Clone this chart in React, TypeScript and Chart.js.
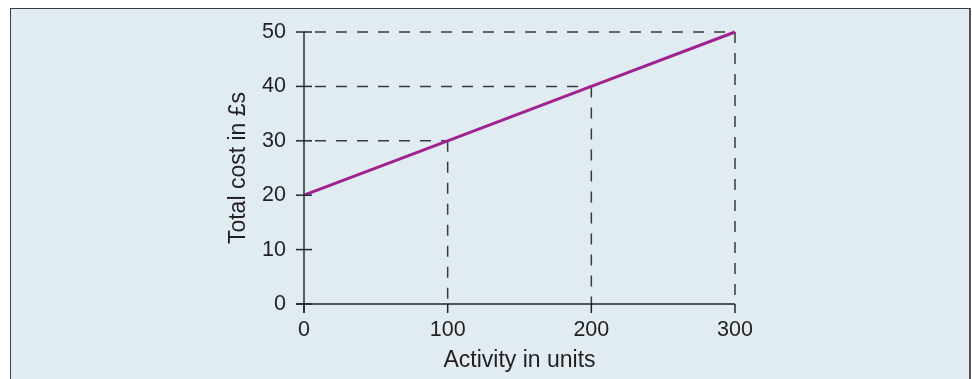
import React, { useEffect, useRef } from "react";
import { Chart, registerables } from "chart.js";

Chart.register(...registerables);

const activityUnits = [0, 100, 200, 300];
const totalCost = [20, 30, 40, 50];
const xTickValues = [0, 100, 200, 300];
const yTickValues = [0, 10, 20, 30, 40, 50];
const xTitle = "Activity in units";
const yTitle = "Total cost in £s";

const FONT = "'Liberation Sans', Arial, Helvetica, sans-serif";
const TEXT = "#231f20";

const axesPlugin = {
  id: "axesAndGuides",
  beforeDatasetsDraw(chart: any) {
    const { ctx, scales } = chart;
    const xs = scales.x;
    const ys = scales.y;
    const x0 = xs.getPixelForValue(0);
    const y0 = ys.getPixelForValue(0);
    ctx.save();
    ctx.strokeStyle = "#3a3a3a";
    ctx.lineWidth = 1.5;
    ctx.setLineDash([11, 10]);
    for (let i = 0; i < activityUnits.length; i++) {
      if (activityUnits[i] === 0) continue;
      const px = xs.getPixelForValue(activityUnits[i]);
      const py = ys.getPixelForValue(totalCost[i]);
      ctx.lineDashOffset = -11;
      ctx.beginPath();
      ctx.moveTo(x0, py);
      ctx.lineTo(px, py);
      ctx.stroke();
      ctx.lineDashOffset = 0;
      ctx.beginPath();
      ctx.moveTo(px, py);
      ctx.lineTo(px, y0);
      ctx.stroke();
    }
    ctx.restore();
  },
  afterDatasetsDraw(chart: any) {
    const { ctx, scales } = chart;
    const xs = scales.x;
    const ys = scales.y;
    const x0 = xs.getPixelForValue(0);
    const xMax = xs.getPixelForValue(xTickValues[xTickValues.length - 1]);
    const y0 = ys.getPixelForValue(0);
    const yMax = ys.getPixelForValue(yTickValues[yTickValues.length - 1]);
    ctx.save();
    ctx.setLineDash([]);
    ctx.strokeStyle = "#5c5c5e";
    ctx.lineWidth = 2;
    ctx.beginPath();
    ctx.moveTo(x0, yMax);
    ctx.lineTo(x0, y0 + 9);
    ctx.stroke();
    ctx.lineWidth = 1.5;
    ctx.strokeStyle = "#2a2a2a";
    for (const v of yTickValues) {
      const py = ys.getPixelForValue(v);
      ctx.beginPath();
      ctx.moveTo(x0 - 8, py);
      ctx.lineTo(x0 + 8, py);
      ctx.stroke();
    }
    ctx.strokeStyle = "#222";
    ctx.lineWidth = 1.5;
    ctx.beginPath();
    ctx.moveTo(x0 - 8, y0);
    ctx.lineTo(xMax, y0);
    ctx.stroke();
    for (const v of xTickValues) {
      const px = xs.getPixelForValue(v);
      ctx.beginPath();
      ctx.moveTo(px, y0);
      ctx.lineTo(px, y0 + 9);
      ctx.stroke();
    }
    ctx.restore();
  },
};

export default function App() {
  const canvasRef = useRef<HTMLCanvasElement | null>(null);

  useEffect(() => {
    const canvas = canvasRef.current;
    if (!canvas) return;
    const chart = new Chart(canvas, {
      type: "scatter",
      data: {
        datasets: [
          {
            data: activityUnits.map((x, i) => ({ x, y: totalCost[i] })),
            showLine: true,
            borderColor: "#a0228f",
            backgroundColor: "#a0228f",
            borderWidth: 3,
            pointRadius: 0,
            pointHoverRadius: 0,
            clip: false as any,
          },
        ],
      },
      options: {
        responsive: false,
        animation: false,
        events: [],
        layout: { padding: { left: 220, right: 237, top: 32, bottom: 0 } },
        plugins: {
          legend: { display: false },
          tooltip: { enabled: false },
          title: { display: false },
        },
        scales: {
          x: {
            type: "linear",
            min: 0,
            max: 300,
            afterBuildTicks: (scale: any) => {
              scale.ticks = xTickValues.map((v) => ({ value: v }));
            },
            afterFit: (scale: any) => {
              scale.height = 75;
            },
            grid: { display: false, drawTicks: false },
            border: { display: false },
            ticks: {
              font: { family: FONT, size: 21.5 },
              color: TEXT,
              padding: 13,
              maxRotation: 0,
            },
            title: {
              display: true,
              text: xTitle,
              font: { family: FONT, size: 23 },
              color: TEXT,
              padding: { top: 0, bottom: 5 },
            },
          },
          y: {
            type: "linear",
            min: 0,
            max: 50,
            afterBuildTicks: (scale: any) => {
              scale.ticks = yTickValues.map((v) => ({ value: v }));
            },
            afterFit: (scale: any) => {
              scale.width = 84;
            },
            grid: { display: false, drawTicks: false },
            border: { display: false },
            ticks: {
              font: { family: FONT, size: 21.5 },
              color: TEXT,
              padding: 18,
            },
            title: {
              display: true,
              text: yTitle,
              font: { family: FONT, size: 23 },
              color: TEXT,
              padding: { top: 5, bottom: 0 },
            },
          },
        },
      },
      plugins: [axesPlugin],
    });
    return () => chart.destroy();
  }, []);

  return (
    <div
      style={{
        position: "fixed",
        left: 0,
        top: 0,
        width: 972,
        height: 379,
        overflow: "hidden",
        background: "#ffffff",
      }}
    >
      <div
        style={{
          position: "absolute",
          left: 10,
          top: 8,
          width: 961,
          height: 420,
          boxSizing: "border-box",
          border: "1.5px solid #3c3c3c",
          borderRightWidth: 2.5,
          borderRightColor: "#555",
          background: "#e1ebf2",
        }}
      />
      <canvas
        ref={canvasRef}
        width={972}
        height={379}
        style={{ position: "absolute", left: 0, top: 0, width: 972, height: 379 }}
      />
    </div>
  );
}
